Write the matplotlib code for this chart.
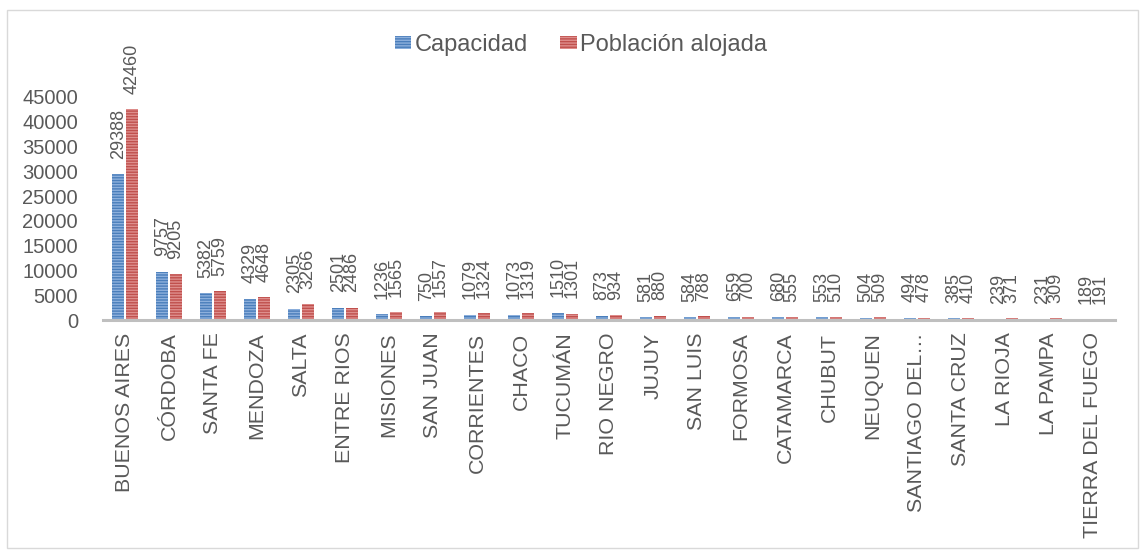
import matplotlib
matplotlib.use("Agg")
import matplotlib.pyplot as plt
import numpy as np
from matplotlib.patches import Rectangle, Patch

plt.rcParams['font.family'] = ['Liberation Sans', 'DejaVu Sans']
plt.rcParams['hatch.linewidth'] = 1.0

categories = ["BUENOS AIRES", "CÓRDOBA", "SANTA FE", "MENDOZA", "SALTA", "ENTRE RIOS",
              "MISIONES", "SAN JUAN", "CORRIENTES", "CHACO", "TUCUMÁN", "RIO NEGRO",
              "JUJUY", "SAN LUIS", "FORMOSA", "CATAMARCA", "CHUBUT", "NEUQUEN",
              "SANTIAGO DEL…", "SANTA CRUZ", "LA RIOJA", "LA PAMPA", "TIERRA DEL FUEGO"]
capacidad = [29388, 9757, 5382, 4329, 2305, 2501, 1236, 750, 1079, 1073, 1510, 873,
             581, 584, 659, 680, 553, 504, 494, 385, 239, 231, 189]
poblacion = [42460, 9205, 5759, 4648, 3266, 2486, 1565, 1557, 1324, 1319, 1301, 934,
             880, 788, 700, 555, 510, 509, 478, 410, 371, 309, 191]
yticks = [0, 5000, 10000, 15000, 20000, 25000, 30000, 35000, 40000, 45000]
series_names = ["Capacidad", "Población alojada"]

text_color = "#595959"
blue_fill, blue_hatch = "#4A7EBB", "#8DB0DC"
red_fill, red_hatch = "#C0504D", "#DE8E8C"

W, H = 1143, 552
fig = plt.figure(figsize=(W / 100, H / 100), dpi=100)
fig.patch.set_facecolor("white")
fig.add_artist(Rectangle((7 / W, 1 - 548 / H), (1138 - 7) / W, (548 - 10) / H,
                         transform=fig.transFigure, fill=False,
                         edgecolor="#D9D9D9", linewidth=1.0))

ax = fig.add_axes([103 / W, (H - 320) / H, (1115 - 103) / W, 248 / H])
x = np.arange(len(categories))
bw = 0.26
off = 0.155
b1 = ax.bar(x - off, capacidad, bw, color=blue_fill, edgecolor=blue_hatch,
            linewidth=0, hatch="------")
b2 = ax.bar(x + off, poblacion, bw, color=red_fill, edgecolor=red_hatch,
            linewidth=0, hatch="------")

for bars, vals in ((b1, capacidad), (b2, poblacion)):
    for rect, v in zip(bars, vals):
        ax.annotate(str(v), (rect.get_x() + rect.get_width() / 2, v),
                    xytext=(0, 11), textcoords="offset points",
                    rotation=90, ha="center", va="bottom",
                    fontsize=13, color=text_color)

ax.set_xlim(-0.5, len(categories) - 0.5)
ax.set_ylim(0, 50000)
ax.set_yticks(yticks)
ax.set_yticklabels([str(t) for t in yticks])
ax.set_xticks(x)
ax.set_xticklabels(categories, rotation=90, ha="center", va="top")
ax.tick_params(axis="y", length=0, pad=18, labelsize=14.5, labelcolor=text_color)
ax.tick_params(axis="x", length=0, pad=9, labelsize=15.4, labelcolor=text_color)
for s in ("top", "right", "left"):
    ax.spines[s].set_visible(False)
ax.spines["bottom"].set_color("#BFBFBF")
ax.spines["bottom"].set_linewidth(2.2)
ax.set_facecolor("none")

handles = [Patch(facecolor=blue_fill, edgecolor=blue_hatch, linewidth=0, hatch="------"),
           Patch(facecolor=red_fill, edgecolor=red_hatch, linewidth=0, hatch="------")]
fig.legend(handles, series_names, loc="center", bbox_to_anchor=(581 / W, 1 - 45 / H),
           ncol=2, frameon=False, fontsize=17, labelcolor=text_color,
           handlelength=0.7, handleheight=0.5, handletextpad=0.15, columnspacing=1.35)

fig.savefig("out.png", dpi=100)
